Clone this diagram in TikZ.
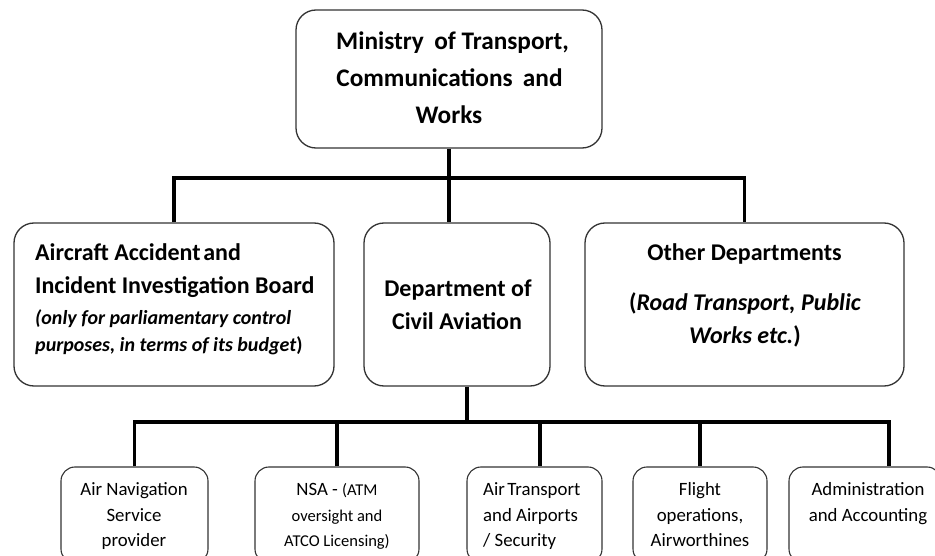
\documentclass[tikz,border=0pt]{standalone}
\usepackage{fontspec}
\setmainfont{Carlito}
\begin{document}
\begin{tikzpicture}[x=1pt,y=-1pt,
  bigbox/.style={draw=black!80, line width=1.3pt, rounded corners=20pt, inner sep=0pt},
  smallbox/.style={draw=black!80, line width=1.1pt, rounded corners=14pt, inner sep=0pt, minimum height=96pt},
  conn/.style={line width=3.8pt, line join=miter},
  ttl/.style={font=\bfseries\fontsize{25.3}{37}\selectfont, inner sep=0pt, anchor=base},
  head/.style={font=\bfseries\fontsize{24}{33}\selectfont, inner sep=0pt},
  note/.style={font=\bfseries\itshape\fontsize{20}{29}\selectfont, inner sep=0pt},
  unit/.style={font=\fontsize{18.8}{25.5}\selectfont, inner sep=0pt, anchor=base},
  unitsm/.style={font=\fontsize{16.5}{25.5}\selectfont, inner sep=0pt, anchor=base}
]
\useasboundingbox (0,0) rectangle (935,556);
\clip (0,0) rectangle (935,556);
% boxes
\node[bigbox, minimum width=306pt, minimum height=138pt] (min) at (449,79) {};
\node[bigbox, minimum width=320pt, minimum height=163pt] (aaib) at (174,304.5) {};
\node[bigbox, minimum width=186pt, minimum height=163pt] (dca) at (457,304.5) {};
\node[bigbox, minimum width=319pt, minimum height=163pt] (oth) at (744.5,304.5) {};
\node[smallbox, minimum width=147pt] (u1) at (134.5,515) {};
\node[smallbox, minimum width=164pt] (u2) at (337,515) {};
\node[smallbox, minimum width=135pt] (u3) at (534.5,515) {};
\node[smallbox, minimum width=134pt] (u4) at (700,515) {};
\node[smallbox, minimum width=152pt] (u5) at (865,515) {};
% connectors
\coordinate (j1) at (448,178);
\coordinate (j2) at (467,422);
\coordinate (c3) at (540,422);
\coordinate (c5) at (889,422);
\draw[conn] (min.south) -- (min.south |- dca.north);
\draw[conn] (aaib.north) |- (j1) -| (oth.north);
\draw[conn] (j2 |- dca.south) -- (j2);
\draw[conn] (u1.north) |- (c5) -- (c5 |- u5.north);
\draw[conn] (u2.north) -- (u2.north |- j2);
\draw[conn] (c3) -- (c3 |- u3.north);
\draw[conn] (u4.north) -- (u4.north |- j2);
% texts
\node[ttl] (tm1) at (452.5,50) {Ministry\hspace{0.18em} of Transport,};
\node[ttl] (tm2) at (449.5,87) {Communications\hspace{0.18em} and};
\node[ttl] (tm3) at (449,124) {Works};
\node[head, anchor=base west] (ta1) at (35,261) {Aircraft Accident\hspace{-0.12em} and};
\node[head, anchor=base west] (ta2) at (35,294) {Incident Investigation Board};
\node[note, anchor=base west] (ta3) at (35,324) {(only for parliamentary control};
\node[note, anchor=base west] (ta4) at (35,352) {purposes, in terms of its budget{\upshape)}};
\node[head, anchor=base] (td1) at (458,297) {Department of};
\node[head, anchor=base] (td2) at (457,330) {Civil Aviation};
\node[head, anchor=base] (to1) at (744.5,261) {Other Departments};
\node[head, anchor=base] (to2) at (745,310) {{\upshape(}\itshape Road Transport, Public};
\node[head, anchor=base] (to3) at (745,343) {\itshape Works etc.{\upshape)}};
\node[unit] (tu1a) at (134,495) {Air Navigation};
\node[unit] (tu1b) at (134,521) {Service};
\node[unit] (tu1c) at (134,546) {provider};
\node[unit] (tu2a) at (337,495) {NSA - {\fontsize{16.5}{25.5}\selectfont(ATM}};
\node[unitsm] (tu2b) at (337,521) {oversight and};
\node[unitsm] (tu2c) at (337,546) {ATCO Licensing)};
\node[unit, anchor=base west] (tu3a) at (483,495) {Air\hspace{-0.1em} Transport};
\node[unit, anchor=base west] (tu3b) at (483,521) {and Airports};
\node[unit, anchor=base west] (tu3c) at (483,546) {/ Security};
\node[unit] (tu4a) at (700,495) {Flight};
\node[unit] (tu4b) at (700,521) {operations,};
\node[unit] (tu4c) at (700,546) {Airworthines};
\node[unit] (tu5a) at (868,495) {Administration};
\node[unit] (tu5b) at (868,521) {and Accounting};
\end{tikzpicture}
\end{document}
